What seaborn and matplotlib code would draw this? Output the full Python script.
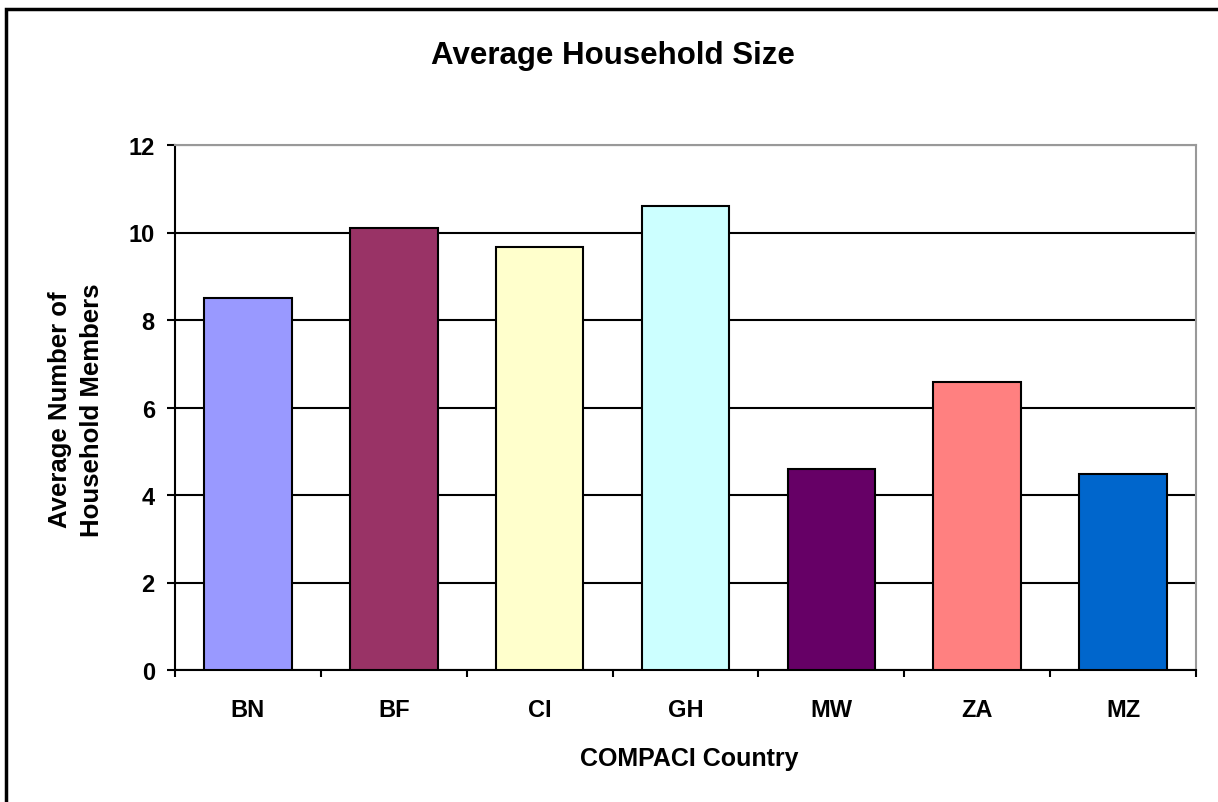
import matplotlib
matplotlib.use("Agg")
import matplotlib.pyplot as plt
import seaborn as sns
import pandas as pd
from matplotlib.patches import Rectangle
from matplotlib.ticker import FixedLocator

sns.set_theme(style="white")
plt.rcParams["font.family"] = ["Liberation Sans", "DejaVu Sans"]
plt.rcParams["text.color"] = "black"
plt.rcParams["xtick.color"] = "black"
plt.rcParams["ytick.color"] = "black"
plt.rcParams["axes.labelcolor"] = "black"

countries = ["BN", "BF", "CI", "GH", "MW", "ZA", "MZ"]
household_size = [8.50, 10.10, 9.66, 10.61, 4.59, 6.58, 4.47]
bar_colors = ["#9999FF", "#993366", "#FFFFCC", "#CCFFFF", "#660066", "#FF8080", "#0066CC"]
y_ticks = [0, 2, 4, 6, 8, 10, 12]

df = pd.DataFrame({"Country": countries, "Size": household_size})

W, H = 1218, 803
fig = plt.figure(figsize=(W / 100, H / 100), dpi=100)
fig.patch.set_facecolor("white")
ax = fig.add_axes([175 / W, 1 - 671 / H, (1196 - 175) / W, (671 - 146) / H])

sns.barplot(data=df, x="Country", y="Size", hue="Country", palette=bar_colors,
            order=countries, hue_order=countries, width=0.6, legend=False,
            edgecolor="black", linewidth=1.5, saturation=1, ax=ax, zorder=3)

ax.set_ylim(0, 12)
ax.set_xlim(-0.5, len(countries) - 0.5)
ax.set_yticks(y_ticks)
ax.yaxis.grid(True, color="black", linewidth=1.5, zorder=0)
ax.set_axisbelow(True)

# category labels centered, tick marks between categories
ax.set_xticks(range(len(countries)))
ax.set_xticklabels(countries, fontsize=17, fontweight="bold", color="black")
ax.tick_params(axis="x", which="major", length=0, pad=20)
ax.xaxis.set_minor_locator(FixedLocator([i - 0.5 for i in range(len(countries) + 1)]))
ax.tick_params(axis="x", which="minor", length=5, width=1.5, color="black", direction="out", bottom=True)
ax.tick_params(axis="y", length=5.5, width=1.5, color="black", direction="out", left=True, pad=9)
for lbl in ax.get_yticklabels():
    lbl.set_fontsize(17)
    lbl.set_fontweight("bold")
    lbl.set_color("black")

for side in ["left", "bottom"]:
    ax.spines[side].set_color("black")
    ax.spines[side].set_linewidth(1.5)
for side in ["top", "right"]:
    ax.spines[side].set_color("#999999")
    ax.spines[side].set_linewidth(1.5)

ax.set_xlabel("")
ax.set_ylabel("")
fig.text(689 / W, 1 - 759 / H, "COMPACI Country", fontsize=18, fontweight="bold",
         ha="center", va="center", color="black")
fig.text(76 / W, 1 - 410 / H, "Average Number of\nHousehold Members", fontsize=18.5,
         fontweight="bold", ha="center", va="center", rotation=90,
         multialignment="center", linespacing=1.4, color="black")
fig.text(613 / W, 1 - 56 / H, "Average Household Size", fontsize=22.5, fontweight="bold",
         ha="center", va="center", color="black")

# outer chart frame
fig.add_artist(Rectangle((6 / W, -0.05), 1.2, 1 - 10 / H + 0.05,
                         transform=fig.transFigure, fill=False,
                         edgecolor="black", linewidth=2.5))

fig.savefig("out.png", dpi=100, facecolor="white")
